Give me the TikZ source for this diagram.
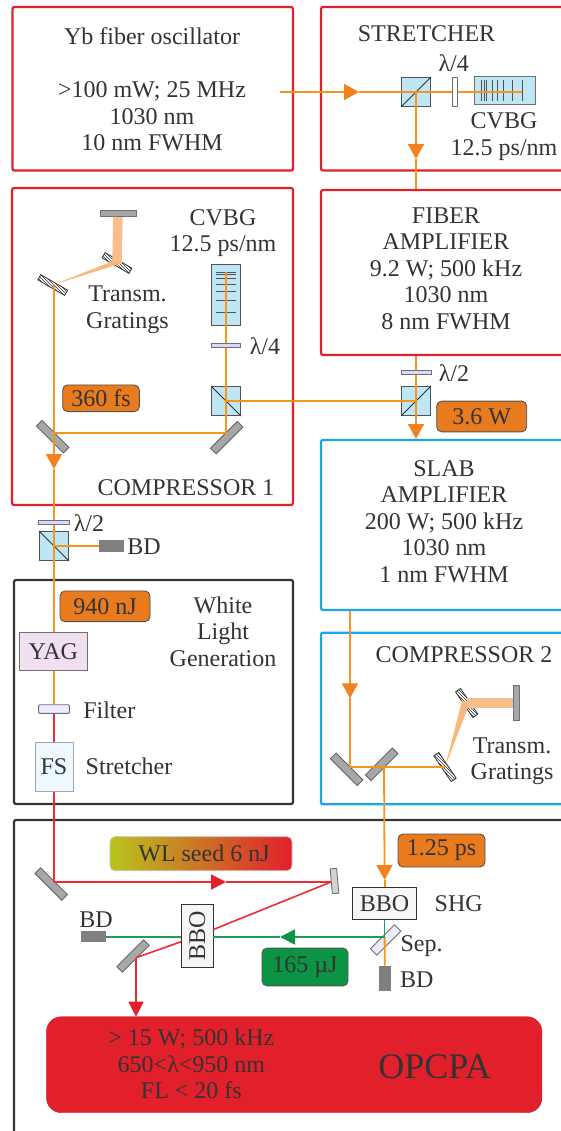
\documentclass[tikz,border=0pt]{standalone}
\usepackage{fontspec}
\setmainfont{Liberation Serif}
\usetikzlibrary{arrows.meta,patterns}
\definecolor{txt}{HTML}{333333}
\definecolor{redb}{HTML}{E2202C}
\definecolor{blueb}{HTML}{1BA6E1}
\definecolor{blackb}{HTML}{333333}
\definecolor{beamo}{HTML}{F7941D}
\definecolor{arro}{HTML}{F4811F}
\definecolor{beamr}{HTML}{EE2A36}
\definecolor{beamg}{HTML}{1E9E55}
\definecolor{arrg}{HTML}{0B9444}
\definecolor{wide}{HTML}{F8BE8C}
\definecolor{mir}{HTML}{A6A8A8}
\definecolor{cube}{HTML}{BFE6F5}
\definecolor{seedl}{HTML}{B8C41E}
\definecolor{seedm}{HTML}{CC6A22}
\tikzset{
  every node/.style={font=\fontsize{24}{26.5}\selectfont,text=txt,inner sep=0pt,align=center},
  panel/.style={draw=#1,line width=2.2pt,rounded corners=2pt,fill=none},
  cubebox/.style={draw=txt!85,line width=1pt,fill=cube,minimum width=29pt,minimum height=29pt},
  mirror/.style={draw=txt!80,line width=.8pt,fill=mir,minimum width=38pt,minimum height=8pt},
  grating/.style={draw=txt,line width=.8pt,preaction={fill=white},pattern=north west lines,pattern color=txt,minimum width=31pt,minimum height=6pt},
  plate/.style={draw=txt!70,line width=.9pt,fill=#1,minimum width=30pt,minimum height=4.5pt},
  plate/.default=white,
  dump/.style={fill=black!50,draw=none},
  crystal/.style={draw=txt,line width=.9pt,fill=#1},
  badge/.style={draw=txt!85,line width=.9pt,fill=#1,rounded corners=5pt},
  beam/.style={draw=beamo,line width=1.8pt},
  redbeam/.style={draw=beamr,line width=1.6pt},
  greenbeam/.style={draw=beamg,line width=1.6pt},
  widebeam/.style={draw=wide,line width=9.5pt},
  otip/.style={beam,-{Triangle[length=15pt,width=16pt,color=arro]}},
  rtip/.style={redbeam,-{Triangle[length=15pt,width=15pt,color=redb]}},
  gtip/.style={greenbeam,-{Triangle[length=15pt,width=15pt,color=arrg]}}
}
\begin{document}
\begin{tikzpicture}[x=1pt,y=-1pt]
\clip (0,0) rectangle (561,1131);
% panels
\node[panel=redb,minimum width=280.5pt,minimum height=163.5pt] (yb) at (152.75,88.75) {};
\node[panel=redb,minimum width=254pt,minimum height=163.5pt] (str) at (448,88.75) {};
\node[panel=redb,minimum width=281pt,minimum height=317pt] (cp1) at (152.5,346.5) {};
\node[panel=redb,minimum width=254pt,minimum height=165pt] (fib) at (448,272.5) {};
\node[panel=blueb,minimum width=254pt,minimum height=170pt] (slab) at (448,525) {};
\node[panel=blueb,minimum width=254pt,minimum height=171.6pt] (cp2) at (448,718.5) {};
\node[panel=blackb,minimum width=279pt,minimum height=224pt] (wlg) at (153.5,692) {};
\node[panel=blackb,minimum width=561pt,minimum height=325pt] (opo) at (294.5,982.5) {};
% panel texts
\node (t1) at (152,89.5) {Yb fiber oscillator\\[26.5pt]>100 mW; 25 MHz\\1030 nm\\10 nm FWHM};
\node (t2) at (426.5,34) {STRETCHER};
\node (t3) at (453.7,63) {λ/4};
\node (t4) at (504,136.5) {CVBG\\12.5 ps/nm};
\node (t5) at (446,268.5) {FIBER\\AMPLIFIER\\9.2 W; 500 kHz\\1030 nm\\8 nm FWHM};
\node (t6) at (444,521.5) {SLAB\\AMPLIFIER\\200 W; 500 kHz\\1030 nm\\1 nm FWHM};
\node (t7) at (223,233) {CVBG\\12.5 ps/nm};
\node (t8) at (127.5,309.5) {Transm.\\Gratings};
\node (t9) at (265,345.7) {λ/4};
\node (t10) at (186,488) {COMPRESSOR 1};
\node (t11) at (454,373) {λ/2};
\node (t12) at (89,522.7) {λ/2};
\node (t13) at (144,547) {BD};
\node (t14) at (223,631.5) {White\\Light\\Generation};
\node (t15) at (109.3,710.7) {Filter};
\node (t16) at (129,766.7) {Stretcher};
\node (t17) at (464,655) {COMPRESSOR 2};
\node (t18) at (512,761) {Transm.\\Gratings};
\node (t19) at (458.7,904) {SHG};
\node (t20) at (421.5,945.7) {Sep.};
\node (t21) at (416.8,980) {BD};
\node (t22) at (96,920) {BD};
% badges
\node[badge=arro!95!black,minimum width=76.6pt,minimum height=26.7pt] (b1) at (101,398.3) {360 fs};
\node[badge=arro!95!black,minimum width=90pt,minimum height=30.7pt] (b2) at (481.7,416.5) {3.6 W};
\node[badge=arro!95!black,minimum width=90pt,minimum height=30.7pt] (b3) at (105,606.3) {940 nJ};
\node[badge=arro!95!black,minimum width=87pt,minimum height=33pt] (b4) at (441.5,850.5) {1.25 ps};
\node[draw=txt!30,line width=.6pt,rounded corners=5pt,left color=seedl,middle color=seedm,right color=redb,minimum width=182pt,minimum height=34pt] (b5) at (201,853.7) {\hspace{6pt}WL seed 6 nJ};
\node[badge=arrg,minimum width=86pt,minimum height=37.7pt] (b6) at (305,967) {165 µJ};
\node[fill=redb,draw=redb!80!black,line width=.4pt,rounded corners=15pt,minimum width=495.5pt,minimum height=96pt] (opcpa) at (294.2,1064.7) {};
\node (o1) at (191.4,1064) {> 15 W; 500 kHz\\650<λ<950 nm\\FL < 20 fs};
\node[font=\fontsize{36}{40}\selectfont] (o2) at (434.7,1066.7) {OPCPA};
% stretcher parts
\node[cubebox] (c1) at (416,92) {};
\draw[line width=1pt,draw=txt] (c1.south west) -- (c1.north east);
\node[plate,minimum width=4.5pt,minimum height=29pt] (w1) at (454.8,92) {};
\node[draw=txt!70,line width=1pt,fill=cube,minimum width=61pt,minimum height=28pt] (g1) at (504.5,91) {};
\foreach \x in {481,484,486.6,492,497,503,512,522}
  \draw[draw=txt!85,line width=1pt] (\x,80.5) -- (\x,101.5);
\coordinate (g1end) at (522,92);
% compressor 1 parts
\node[draw=txt!70,line width=.9pt,fill=mir,minimum width=36pt,minimum height=6.5pt] (m1) at (118,213.3) {};
\node[grating,rotate=-30] (gr1) at (117,263) {};
\node[grating,rotate=-30] (gr2) at (52.7,285) {};
\node[draw=txt!85,line width=1pt,fill=cube,minimum width=29pt,minimum height=60pt] (g2) at (225.5,295) {};
\foreach \y in {272.3,275,278.3,284.3,291.7,300.7,312.7}
  \draw[draw=txt!85,line width=1pt] (216,\y) -- (236,\y);
\coordinate (g2end) at (226,272);
\node[plate=white!85!blue,minimum width=29.5pt] (w2) at (226,345.5) {};
\node[cubebox] (c2) at (226,401) {};
\draw[line width=1pt,draw=txt] (c2.north west) -- (c2.south east);
\node[mirror,rotate=-45] (m2) at (52.7,436.7) {};
\node[mirror,rotate=45] (m3) at (226.7,437.7) {};
\coordinate (m2hit) at (54,433);
\coordinate (m3hit) at (226,433);
% amplifier parts
\node[plate=white!85!blue] (w3) at (416,372.3) {};
\node[cubebox] (c3) at (416,401) {};
\draw[line width=1pt,draw=txt] (c3.south west) -- (c3.north east);
% lambda/2 and BD
\node[plate=white!85!blue,minimum width=31pt] (w4) at (54,522.3) {};
\node[cubebox] (c4) at (54,546) {};
\draw[line width=1pt,draw=txt] (c4.north west) -- (c4.south east);
\node[dump,minimum width=24.7pt,minimum height=12.7pt] (bd1) at (111.7,546) {};
% white light parts
\node[draw=txt!70,line width=.9pt,fill=violet!12,minimum width=68pt,minimum height=37.7pt] (yag) at (53.3,651.2) {YAG};
\node[plate=blue!8,minimum width=30.7pt,minimum height=8.6pt,rounded corners=1pt] (flt) at (54,709) {};
\node[draw=black!35,line width=.8pt,fill=cyan!7,minimum width=38pt,minimum height=49.7pt] (fs) at (54,766.8) {FS};
% compressor 2 parts
\node[mirror,rotate=-45] (m4) at (346.7,769.3) {};
\node[mirror,rotate=45] (m5) at (381.7,764.3) {};
\coordinate (m4hit) at (350,767);
\coordinate (m5hit) at (384,767);
\node[grating,rotate=-56] (gr3) at (445,767) {};
\node[grating,rotate=-56] (gr4) at (466.7,703) {};
\node[draw=txt!70,line width=.9pt,fill=mir,minimum width=6pt,minimum height=35.7pt] (m6) at (516.3,703) {};
% opcpa parts
\node[mirror,rotate=-45] (m7) at (51.2,884) {};
\coordinate (m7hit) at (54,882);
\node[draw=txt!70,line width=.9pt,fill=mir!50,rotate=5,minimum width=6.5pt,minimum height=25pt] (m8) at (334.5,881) {};
\coordinate (m8hit) at (331,882);
\node[crystal=black!3,minimum width=63.5pt,minimum height=31.6pt] (bbo1) at (384.6,903.5) {BBO};
\node[crystal=black!4,minimum width=31.6pt,minimum height=63.4pt] (bbo2) at (197.2,936) {\rotatebox{90}{BBO}};
\node[draw=txt!70,line width=.9pt,fill=blue!8,rotate=45,minimum width=34pt,minimum height=9pt] (sep) at (385.7,940) {};
\coordinate (sephit) at (384.6,937);
\node[dump,minimum width=11.7pt,minimum height=25pt] (bd2) at (384.8,978.2) {};
\node[dump,minimum width=25pt,minimum height=11pt] (bd3) at (93,936.2) {};
\node[mirror,rotate=45] (m9) at (133,956) {};
\coordinate (m9hit) at (136,957.7);
% beams: oscillator and stretcher
\coordinate (osc) at (280,92);
\coordinate (tip1) at (359,92);
\coordinate (tip2) at (416,159);
\coordinate (tip3) at (416,439);
\coordinate (tip4) at (54,469);
\coordinate (tip5) at (350,698.3);
\coordinate (tip6) at (384.6,880);
\coordinate (tip7) at (226,882);
\coordinate (tip8) at (280,937);
\coordinate (tip9) at (136,1016.7);
\coordinate (wa) at (122.5,263);
\coordinate (wb) at (113,261);
\coordinate (wc) at (470,702.5);
\coordinate (wd) at (462,701);
\draw[otip] (osc) -- (tip1);
\draw[beam] (tip1) -- (c1.center);
\draw[beam] (c1.center) -- (w1);
\draw[beam] (w1) -- (g1end);
\draw[otip] (c1.center) -- (tip2);
\draw[beam] (tip2) -- (fib.north -| c1.center);
% fiber amp to slab and compressor 1
\draw[beam] (fib.south -| c3.center) -- (w3);
\draw[beam] (w3) -- (c3.center);
\draw[otip] (c3.center) -- (tip3);
\draw[beam] (c3.center) -- (c2.center);
\draw[beam] (c2.center) -- (w2);
\draw[beam] (w2) -- (g2end);
\draw[beam] (c2.center) -- (m3hit);
\draw[beam] (m3hit) -- (m2hit);
\draw[beam] (gr2.center -| m2hit) -- (m2hit);
\draw[otip] (m2hit) -- (tip4);
\draw[beam] (tip4) -- (w4);
% gratings wide
\draw[widebeam] (m1) -- (gr1.center);
\fill[wide!85!beamo] (gr2.center) -- (wa) -- (wb) -- cycle;
\draw[beam] (w4) -- (c4.center);
\draw[beam] (c4.center) -- (bd1);
\draw[beam] (c4.center) -- (yag.north -| c4.center);
\draw[beam] (yag.south -| flt) -- (flt);
\draw[redbeam] (flt) -- (fs);
\draw[redbeam] (fs) -- (m7hit);
\draw[rtip] (m7hit) -- (tip7);
\draw[redbeam] (tip7) -- (m8hit);
% compressor 2 beams
\draw[otip] (slab.south -| tip5) -- (tip5);
\draw[beam] (tip5) -- (m4hit);
\draw[beam] (m4hit) -- (gr3.center);
\fill[wide!85!beamo] (gr3.center) -- (wc) -- (wd) -- cycle;
\draw[widebeam] (gr4.center) -- (m6);
\draw[otip] (m5hit) -- (tip6);
\draw[beam] (tip6) -- (bbo1);
% green and red parts
\draw[greenbeam] (bbo1.south) -- (sephit);
\draw[beam] (sephit) -- (bd2);
\draw[gtip] (sephit) -- (tip8);
\draw[greenbeam] (tip8) -- (bbo2.east |- tip8);
\draw[greenbeam] (bbo2.west |- tip8) -- (bd3.east |- tip8);
\draw[redbeam] (m8hit) -- (bbo2);
\draw[redbeam] (bbo2) -- (m9hit);
\draw[rtip] (m9hit) -- (tip9);
\end{tikzpicture}
\end{document}
